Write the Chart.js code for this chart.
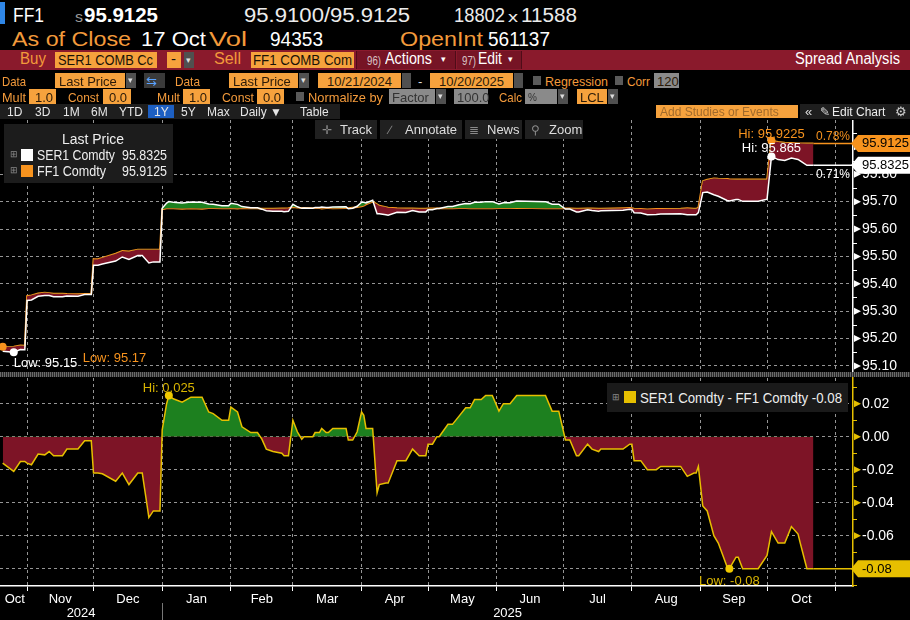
<!DOCTYPE html>
<html>
<head>
<meta charset="utf-8">
<title>FF1 vs SER1 spread</title>
<script src="https://cdn.jsdelivr.net/npm/chart.js@4.4.1/dist/chart.umd.min.js"></script>
<style>
  html, body { margin: 0; padding: 0; background: #000; }
  body { position: relative; width: 910px; height: 620px; overflow: hidden; font-family: "Liberation Sans", Arial, sans-serif; }
  .t { position: absolute; white-space: nowrap; line-height: 1; transform-origin: 0 0; z-index: 6; }
  .b { position: absolute; z-index: 5; }
  #top { position: absolute; left: 0; top: 120px; }
  #bot { position: absolute; left: 0; top: 376px; }
  #sep { position: absolute; left: 0; top: 372px; width: 910px; height: 5px; z-index: 3;
         background: repeating-linear-gradient(90deg, #6a6a6a 0 1px, #2a2a2a 1px 2px); }
</style>
</head>
<body>
<canvas id="top" width="910" height="254"></canvas>
<canvas id="bot" width="910" height="244"></canvas>
<div id="sep"></div>
<script>
// x = calendar days after 21 Oct 2024
const DAYS = [
  0, 5, 8, 10, 11, 13, 16, 19, 21, 23,
  27, 29, 34, 37, 40, 41, 43, 45, 51, 54,
  57, 61, 63, 66, 68, 71, 72, 74, 75, 77,
  81, 85, 90, 93, 95, 99, 102, 103, 106, 108,
  112, 115, 117, 119, 122, 126, 127, 129, 131, 133,
  135, 136, 140, 141, 143, 144, 146, 147, 149, 155,
  156, 158, 160, 162, 163, 164, 167, 169, 170, 173,
  174, 178, 182, 185, 188, 191, 192, 194, 196, 197,
  201, 203, 206, 209, 211, 213, 216, 218, 221, 224,
  226, 229, 232, 245, 248, 251, 254, 256, 259, 260,
  264, 266, 269, 270, 280, 283, 284, 285, 288, 291,
  295, 297, 306, 309, 312, 313, 314, 316, 318, 321,
  323, 327, 328, 331, 332, 334, 341, 345, 347, 350,
  353, 356, 359, 360, 363, 366
];
const FF1 = [
  95.170, 95.171, 95.175, 95.174, 95.355, 95.358, 95.365, 95.368, 95.366, 95.364,
  95.364, 95.363, 95.362, 95.363, 95.363, 95.490, 95.490, 95.495, 95.510, 95.520,
  95.518, 95.525, 95.525, 95.525, 95.525, 95.525, 95.672, 95.675, 95.675, 95.675,
  95.674, 95.675, 95.674, 95.676, 95.676, 95.675, 95.675, 95.676, 95.675, 95.676,
  95.675, 95.675, 95.674, 95.674, 95.674, 95.675, 95.675, 95.676, 95.680, 95.678,
  95.677, 95.677, 95.676, 95.676, 95.676, 95.675, 95.676, 95.676, 95.675, 95.676,
  95.676, 95.678, 95.680, 95.683, 95.685, 95.690, 95.700, 95.690, 95.685, 95.680,
  95.678, 95.676, 95.675, 95.675, 95.674, 95.674, 95.675, 95.675, 95.675, 95.675,
  95.675, 95.675, 95.676, 95.676, 95.675, 95.675, 95.675, 95.675, 95.675, 95.676,
  95.676, 95.676, 95.677, 95.675, 95.675, 95.675, 95.675, 95.675, 95.674, 95.674,
  95.675, 95.675, 95.674, 95.674, 95.676, 95.677, 95.676, 95.674, 95.673, 95.672,
  95.673, 95.673, 95.674, 95.676, 95.674, 95.674, 95.678, 95.775, 95.780, 95.785,
  95.784, 95.783, 95.782, 95.781, 95.781, 95.781, 95.781, 95.781, 95.9225, 95.918,
  95.915, 95.914, 95.913, 95.913, 95.9125, 95.9125
];
const SER1 = [
  95.154, 95.150, 95.160, 95.159, 95.339, 95.341, 95.3545, 95.357, 95.357, 95.3525,
  95.3525, 95.3555, 95.3545, 95.3605, 95.3605, 95.468, 95.468, 95.4725, 95.483, 95.498,
  95.489, 95.503, 95.503, 95.476, 95.480, 95.480, 95.676, 95.695, 95.700, 95.698,
  95.695, 95.699, 95.698, 95.691, 95.690, 95.685, 95.685, 95.694, 95.690, 95.682,
  95.6775, 95.6775, 95.6725, 95.6665, 95.665, 95.665, 95.6635, 95.6645, 95.690, 95.681,
  95.6755, 95.677, 95.676, 95.6785, 95.6785, 95.680, 95.6785, 95.6785, 95.680, 95.681,
  95.674, 95.676, 95.683, 95.698, 95.698, 95.695, 95.705, 95.656, 95.656, 95.652,
  95.650, 95.6615, 95.6605, 95.6675, 95.6625, 95.6625, 95.6705, 95.6705, 95.675, 95.675,
  95.6825, 95.6825, 95.6885, 95.6935, 95.6925, 95.6975, 95.6975, 95.700, 95.700, 95.6915,
  95.696, 95.696, 95.702, 95.700, 95.6905, 95.6905, 95.673, 95.673, 95.6625, 95.6625,
  95.6705, 95.6675, 95.665, 95.6665, 95.6685, 95.6725, 95.6715, 95.6595, 95.6585, 95.652,
  95.653, 95.655, 95.656, 95.652, 95.652, 95.652, 95.660, 95.733, 95.735, 95.725,
  95.7195, 95.704, 95.702, 95.708, 95.708, 95.701, 95.701, 95.709, 95.865, 95.8535,
  95.8505, 95.8595, 95.854, 95.8485, 95.8325, 95.8325
];
const SPREAD = [
  -0.016, -0.021, -0.015, -0.015, -0.016, -0.017, -0.0105, -0.011, -0.009, -0.0115,
  -0.0115, -0.0075, -0.0075, -0.0025, -0.0025, -0.022, -0.022, -0.0225, -0.027, -0.022,
  -0.029, -0.022, -0.022, -0.049, -0.045, -0.045, 0.004, 0.020, 0.025, 0.023,
  0.021, 0.024, 0.024, 0.015, 0.014, 0.010, 0.010, 0.018, 0.015, 0.006,
  0.0025, 0.0025, -0.0015, -0.0075, -0.009, -0.010, -0.0115, -0.0115, 0.010, 0.003,
  -0.0015, 0.000, 0.000, 0.0025, 0.0025, 0.005, 0.0025, 0.0025, 0.005, 0.005,
  -0.002, -0.002, 0.003, 0.015, 0.013, 0.005, 0.005, -0.034, -0.029, -0.028,
  -0.028, -0.0145, -0.0145, -0.0075, -0.0115, -0.0115, -0.0045, -0.0045, 0.000, 0.000,
  0.0075, 0.0075, 0.0125, 0.0175, 0.0175, 0.0225, 0.0225, 0.025, 0.025, 0.0155,
  0.020, 0.020, 0.025, 0.025, 0.0155, 0.0155, -0.002, -0.002, -0.0115, -0.0115,
  -0.0045, -0.0075, -0.009, -0.0075, -0.0075, -0.0045, -0.0045, -0.0145, -0.0145, -0.020,
  -0.020, -0.018, -0.018, -0.024, -0.022, -0.022, -0.018, -0.042, -0.045, -0.060,
  -0.0645, -0.079, -0.080, -0.073, -0.073, -0.080, -0.080, -0.072, -0.0575, -0.0645,
  -0.0645, -0.0545, -0.059, -0.0645, -0.080, -0.080
];

const MONTH_START = [11, 41, 72, 103, 131, 162, 192, 223, 253, 284, 315, 345, 376];
const MONTH_LABELS = ['Oct', 'Nov', 'Dec', 'Jan', 'Feb', 'Mar', 'Apr', 'May', 'Jun', 'Jul', 'Aug', 'Sep', 'Oct'];
const YEAR_LABELS = ['2024', '2025'];
const YEAR_START = 72;
const PRICE_TICKS = [95.1, 95.2, 95.3, 95.4, 95.5, 95.6, 95.7, 95.8, 95.9];
const SPREAD_TICKS = [0.02, 0, -0.02, -0.04, -0.06, -0.08];

const X_MIN = -1.2, X_MAX = 383.8;
const WHITE = '#ffffff', ORANGE = '#f7931e', YELLOW = '#e6bf00';
const GREEN = '#1d801f', RED = '#7d1426';
const GRID = 'rgba(165,165,165,0.9)';
const TXT_OR = '#f39a3b', BOX_OR = '#f6a23d', DARK = '#2a1a08';
const FONT = '"Liberation Sans", Arial, sans-serif';

Chart.defaults.font.family = FONT;
Chart.defaults.color = WHITE;

const monthMid = MONTH_LABELS.map((m, i) => ((i ? MONTH_START[i - 1] : 0) + MONTH_START[i]) / 2);
const pts = arr => DAYS.map((d, i) => ({ x: d, y: arr[i] }));
const fmt = v => String(+v.toFixed(4));
const pct = arr => ((arr[arr.length - 1] - arr[0]) / arr[0] * 100).toFixed(2) + '%';
const last = arr => arr[arr.length - 1];
const argMax = arr => arr.indexOf(Math.max(...arr));
const argMin = arr => arr.indexOf(Math.min(...arr));
const zeroPad = s => { s.paddingTop = 0; s.paddingBottom = 0; s.paddingLeft = 0; s.paddingRight = 0; };

// ---------- page furniture ----------
function box(x, y, w, h, bg, extra) {
  const d = document.createElement('div');
  d.className = 'b';
  d.style.cssText = `left:${x}px;top:${y}px;width:${w}px;height:${h}px;background:${bg};${extra || ''}`;
  document.body.appendChild(d);
  return d;
}
function txt(x, base, w, size, color, s, extra) {
  const d = document.createElement('div');
  d.className = 't';
  d.textContent = s;
  d.style.cssText = `left:${x}px;top:${base - size * 0.85}px;font-size:${size}px;color:${color};${extra || ''}`;
  document.body.appendChild(d);
  if (w) {
    const r = d.getBoundingClientRect().width;
    if (r > 0) d.style.transform = `scaleX(${w / r})`;
  }
  return d;
}
function drop(x, y, h) {
  box(x, y, 10, h, '#505050');
  txt(x + 2, y + h - 4, 0, 9, '#ddd', '\u25BE');
}

// row 1
box(0, 2, 5, 22, '#2f86e6');
txt(13, 22, 31, 20, WHITE, 'FF1');
txt(75, 22, 8, 14, '#9a9a9a', 's');
txt(84, 22, 74, 21, WHITE, '95.9125', 'font-weight:bold');
txt(244, 22, 166, 20, '#ececec', '95.9100/95.9125');
txt(454, 22, 51, 20, '#ececec', '18802');
txt(508, 22, 10, 14, '#ececec', 'x');
txt(521, 22, 56, 20, '#ececec', '11588');
// row 2
txt(12, 46, 119, 20, TXT_OR, 'As of Close');
txt(141, 46, 65, 20, WHITE, '17 Oct');
txt(209, 46, 38, 20, TXT_OR, 'Vol');
txt(270, 46, 53, 20, WHITE, '94353');
txt(400, 46, 83, 20, TXT_OR, 'OpenInt');
txt(488, 46, 62, 20, WHITE, '561137');
// row 3 (red bar)
box(0, 50, 910, 20, '#8a1a2c');
txt(20, 65, 26, 16, TXT_OR, 'Buy');
box(55, 52, 102, 16, BOX_OR);
txt(58, 65, 95, 15, '#1a1208', 'SER1 COMB Cc');
box(167, 52, 14, 16, BOX_OR);
txt(171, 64, 0, 15, '#111', '-');
drop(184, 52, 16);
txt(214, 65, 27, 16, TXT_OR, 'Sell');
box(251, 52, 103, 16, BOX_OR);
txt(253, 65, 99, 15, '#1a1208', 'FF1 COMB Com');
box(356, 51, 98, 18, '#761425', 'border-left:1px solid #4e0c18;border-right:1px solid #4e0c18');
txt(367, 65, 14, 12, '#d9c3c6', '96)');
txt(385, 65, 47, 16, WHITE, 'Actions');
txt(441, 63, 0, 9, WHITE, '\u25BE');
box(457, 51, 64, 18, '#761425', 'border-right:1px solid #4e0c18');
txt(462, 65, 14, 12, '#d9c3c6', '97)');
txt(478, 65, 24, 16, WHITE, 'Edit');
txt(508, 63, 0, 9, WHITE, '\u25BE');
txt(795, 65, 105, 16, WHITE, 'Spread Analysis');
// row 4
txt(2, 86, 24, 13, TXT_OR, 'Data');
box(55, 73, 70, 15, BOX_OR); txt(59, 86, 0, 13, DARK, 'Last Price'); drop(126, 73, 15);
box(144, 73, 21, 15, '#3a3a3a'); txt(146, 86, 0, 13, '#5aa2ff', '\u21C6');
txt(175, 86, 25, 13, TXT_OR, 'Data');
box(229, 73, 69, 15, BOX_OR); txt(233, 86, 0, 13, DARK, 'Last Price'); drop(299, 73, 15);
box(318, 73, 83, 15, BOX_OR); txt(327, 86, 0, 13, DARK, '10/21/2024'); box(402, 73, 9, 15, '#505050');
txt(418, 86, 0, 13, '#ddd', '-');
box(430, 73, 83, 15, BOX_OR); txt(439, 86, 0, 13, DARK, '10/20/2025'); box(514, 73, 9, 15, '#505050');
box(533, 76, 8, 9, '#5a5a5a');
txt(545, 86, 63, 13, TXT_OR, 'Regression');
box(615, 76, 8, 9, '#5a5a5a');
txt(627, 86, 23, 13, TXT_OR, 'Corr');
box(654, 73, 25, 15, '#8a8a8a'); txt(657, 86, 0, 13, DARK, '120');
// row 5
txt(2, 102, 24, 13, TXT_OR, 'Mult');
box(29, 89, 27, 15, BOX_OR); txt(35, 102, 0, 13, DARK, '1.0');
txt(68, 102, 31, 13, TXT_OR, 'Const');
box(103, 89, 28, 15, BOX_OR); txt(109, 102, 0, 13, DARK, '0.0');
txt(157, 102, 23, 13, TXT_OR, 'Mult');
box(183, 89, 27, 15, BOX_OR); txt(189, 102, 0, 13, DARK, '1.0');
txt(222, 102, 32, 13, TXT_OR, 'Const');
box(257, 89, 27, 15, BOX_OR); txt(263, 102, 0, 13, DARK, '0.0');
box(296, 92, 8, 9, '#5a5a5a');
txt(308, 102, 75, 13, TXT_OR, 'Normalize by');
box(389, 89, 46, 15, '#8a8a8a'); txt(392, 102, 0, 13, '#333', 'Factor'); drop(436, 89, 15);
box(454, 89, 34, 15, '#8a8a8a'); txt(457, 102, 0, 13, '#333', '100.0');
txt(499, 102, 23, 13, TXT_OR, 'Calc');
box(525, 89, 32, 15, '#8a8a8a'); txt(528, 101, 0, 10, '#333', '%'); drop(558, 89, 15);
box(577, 89, 30, 15, BOX_OR); txt(580, 102, 0, 13, DARK, 'LCL'); drop(608, 89, 15);
// row 6
box(0, 104, 340, 15, '#1e1e1e');
[['1D', 7], ['3D', 35], ['1M', 63], ['6M', 91], ['YTD', 119], ['1Y', 154], ['5Y', 181], ['Max', 207], ['Daily \u25BC', 240], ['Table', 300]]
  .forEach(([s, x]) => {
    if (s === '1Y') box(148, 105, 26, 13, '#1d5fc2');
    txt(x, 116, 0, 12, '#e6e6e6', s);
  });
box(656, 105, 142, 13, BOX_OR);
txt(660, 116, 0, 12, 'rgba(90,60,30,0.55)', 'Add Studies or Events');
box(800, 104, 110, 15, '#1e1e1e');
txt(805, 116, 0, 13, '#ddd', '\u00AB');
txt(820, 116, 0, 12, '#ddd', '\u270E');
txt(832, 116, 0, 12, '#eee', 'Edit Chart');
txt(895, 116, 0, 13, '#ccc', '\u2699');

// chart toolbar
[[315, 62, '\u271B', 322, 'Track', 340], [380, 82, '\u2215', 389, 'Annotate', 405],
 [465, 57, '\u2263', 469, 'News', 487], [525, 58, '\u26B2', 531, 'Zoom', 549]]
  .forEach(([bx, bw, ic, ix, s, tx]) => {
    box(bx, 120, bw, 19, '#202020');
    txt(ix, 134, 0, 12, '#8a8a8a', ic);
    txt(tx, 134, 0, 13, '#dedede', s);
  });

// price legend
box(4, 124, 169, 59, '#1c1c1c');
txt(62, 144, 62, 14, '#eee', 'Last Price');
txt(10, 158, 0, 9, '#888', '\u229E');
box(21, 149, 12, 12, WHITE, 'z-index:6');
txt(37, 160, 78, 14, '#eee', 'SER1 Comdty');
txt(122, 160, 45, 14, '#eee', fmt(last(SER1)));
txt(10, 174, 0, 9, '#888', '\u229E');
box(21, 165, 12, 12, ORANGE, 'z-index:6');
txt(37, 176, 69, 14, '#eee', 'FF1 Comdty');
txt(122, 176, 45, 14, '#eee', fmt(last(FF1)));

// spread legend
box(607, 383, 241, 29, '#1a1a1a');
txt(612, 401, 0, 9, '#888', '\u229E');
box(624, 391, 12, 12, YELLOW, 'z-index:6');
txt(640, 403, 202, 14, '#eee', 'SER1 Comdty - FF1 Comdty ' + fmt(last(SPREAD)));

// ---------- drawing helpers ----------
function hline(ctx, x1, x2, y, color, w) {
  ctx.save(); ctx.strokeStyle = color; ctx.lineWidth = w;
  ctx.beginPath(); ctx.moveTo(x1, y); ctx.lineTo(x2, y); ctx.stroke(); ctx.restore();
}
function dot(ctx, x, y, color) {
  ctx.save(); ctx.fillStyle = color; ctx.beginPath(); ctx.arc(x, y, 4, 0, Math.PI * 2); ctx.fill(); ctx.restore();
}
function label(ctx, s, x, y, color, align, size) {
  ctx.save(); ctx.fillStyle = color; ctx.font = `${size || 13}px ${FONT}`;
  ctx.textAlign = align; ctx.textBaseline = 'alphabetic'; ctx.fillText(s, x, y); ctx.restore();
}
function axisDeco(chart, ticks, minor, color) {
  const { ctx, chartArea: a, scales: { y } } = chart;
  ctx.save(); ctx.fillStyle = color; ctx.strokeStyle = color; ctx.lineWidth = 1;
  ticks.forEach(v => {
    const p = y.getPixelForValue(v);
    ctx.beginPath(); ctx.moveTo(a.right + 1, p - 3.5); ctx.lineTo(a.right + 8, p); ctx.lineTo(a.right + 1, p + 3.5);
    ctx.closePath(); ctx.fill();
  });
  minor.forEach(v => {
    const p = Math.round(y.getPixelForValue(v)) + 0.5;
    ctx.beginPath(); ctx.moveTo(a.right, p); ctx.lineTo(a.right + 4, p); ctx.stroke();
  });
  ctx.restore();
}
function tag(ctx, x0, py, s, bg) {
  ctx.save();
  ctx.fillStyle = bg;
  ctx.beginPath();
  ctx.moveTo(x0 - 2, py); ctx.lineTo(x0 + 5, py - 8.5); ctx.lineTo(910, py - 8.5);
  ctx.lineTo(910, py + 8.5); ctx.lineTo(x0 + 5, py + 8.5); ctx.closePath(); ctx.fill();
  ctx.fillStyle = '#000'; ctx.font = `13px ${FONT}`; ctx.textAlign = 'left'; ctx.textBaseline = 'middle';
  ctx.fillText(s, x0 + 9, py + 0.5);
  ctx.restore();
}

// ---------- upper panel ----------
const upperMarks = {
  id: 'upperMarks',
  afterDatasetsDraw(chart) {
    const { ctx, chartArea: a, scales: { x, y } } = chart;
    const xe = x.getPixelForValue(last(DAYS));
    hline(ctx, xe, a.right, y.getPixelForValue(last(FF1)), ORANGE, 1.5);
    hline(ctx, xe, a.right, y.getPixelForValue(last(SER1)), WHITE, 1.5);
  },
  afterDraw(chart) {
    const { ctx, chartArea: a, scales: { x, y } } = chart;
    const minor = PRICE_TICKS.map(v => v + 0.05).filter(v => v < y.max);
    axisDeco(chart, PRICE_TICKS, minor, WHITE);

    let i = argMax(FF1), px = x.getPixelForValue(DAYS[i]), py = y.getPixelForValue(FF1[i]);
    dot(ctx, px, py, ORANGE); label(ctx, 'Hi: ' + fmt(FF1[i]), px, py - 3, ORANGE, 'center');
    i = argMax(SER1); px = x.getPixelForValue(DAYS[i]); py = y.getPixelForValue(SER1[i]);
    dot(ctx, px, py, WHITE); label(ctx, 'Hi: ' + fmt(SER1[i]), px, py - 4, WHITE, 'center');
    i = argMin(FF1); px = x.getPixelForValue(DAYS[i]); py = y.getPixelForValue(FF1[i]);
    dot(ctx, px, py, ORANGE); label(ctx, 'Low: ' + fmt(FF1[i]), px + 80, py + 15, ORANGE, 'left');
    i = argMin(SER1); px = x.getPixelForValue(DAYS[i]); py = y.getPixelForValue(SER1[i]);
    dot(ctx, px, py, WHITE); label(ctx, 'Low: ' + fmt(SER1[i]), px, py + 15, WHITE, 'left');

    const yf = y.getPixelForValue(last(FF1)), ys = y.getPixelForValue(last(SER1));
    label(ctx, pct(FF1), a.right - 3, yf - 3, ORANGE, 'right', 12);
    label(ctx, pct(SER1), a.right - 3, ys + 13, WHITE, 'right', 12);
    tag(ctx, a.right, ys, fmt(last(SER1)), WHITE);
    tag(ctx, a.right, yf, fmt(last(FF1)), ORANGE);
  }
};

new Chart(document.getElementById('top'), {
  type: 'line',
  data: {
    datasets: [
      { label: 'SER1 Comdty', data: pts(SER1), borderColor: WHITE, borderWidth: 1.5, pointRadius: 0, tension: 0,
        fill: { target: 1, above: GREEN, below: RED } },
      { label: 'FF1 Comdty', data: pts(FF1), borderColor: ORANGE, borderWidth: 1.8, pointRadius: 0, tension: 0, fill: false }
    ]
  },
  options: {
    responsive: false, animation: false, events: [],
    layout: { padding: { top: 0, bottom: 2, left: 0, right: 0 } },
    plugins: { legend: { display: false }, tooltip: { enabled: false } },
    scales: {
      x: {
        type: 'linear', min: X_MIN, max: X_MAX,
        afterBuildTicks: s => { s.ticks = MONTH_START.map(v => ({ value: v })); },
        ticks: { display: false },
        grid: { color: GRID, drawTicks: false },
        border: { display: false, dash: [3, 3] },
        afterFit: s => { s.height = 0; zeroPad(s); }
      },
      y: {
        position: 'right', min: 95.078, max: 95.998,
        afterBuildTicks: s => { s.ticks = PRICE_TICKS.map(v => ({ value: v })); },
        ticks: { color: WHITE, font: { size: 14 }, padding: 9, autoSkip: false, callback: v => v.toFixed(2) },
        grid: { color: c => (c.tick && c.tick.value > 95.85) ? 'rgba(0,0,0,0)' : GRID, drawTicks: false },
        border: { color: WHITE, width: 1.5, dash: [3, 3] },
        afterFit: s => { s.width = 57; zeroPad(s); }
      }
    }
  },
  plugins: [upperMarks]
});

// ---------- lower panel ----------
const isStart = c => c.tick && MONTH_START.includes(c.tick.value);
const lowerMarks = {
  id: 'lowerMarks',
  afterDatasetsDraw(chart) {
    const { ctx, chartArea: a, scales: { x, y } } = chart;
    hline(ctx, x.getPixelForValue(last(DAYS)), a.right, y.getPixelForValue(last(SPREAD)), YELLOW, 1.5);
  },
  afterDraw(chart) {
    const { ctx, chartArea: a, scales: { x, y } } = chart;
    const minor = SPREAD_TICKS.map(v => v + 0.01).concat([SPREAD_TICKS[SPREAD_TICKS.length - 1] - 0.01]);
    axisDeco(chart, SPREAD_TICKS, minor, YELLOW);

    let i = argMax(SPREAD), px = x.getPixelForValue(DAYS[i]), py = y.getPixelForValue(SPREAD[i]);
    dot(ctx, px, py, '#f0c800'); label(ctx, 'Hi: ' + fmt(SPREAD[i]), px, py - 3, '#d8b400', 'center');
    i = argMin(SPREAD); px = x.getPixelForValue(DAYS[i]); py = y.getPixelForValue(SPREAD[i]);
    dot(ctx, px, py, '#f0c800'); label(ctx, 'Low: ' + fmt(SPREAD[i]), px, py + 16, '#d8b400', 'center');

    tag(ctx, a.right, y.getPixelForValue(last(SPREAD)), fmt(last(SPREAD)), YELLOW);

    // year row
    const xs = x.getPixelForValue(YEAR_START);
    const x0 = x.getPixelForValue(X_MIN), x1 = a.right;
    ctx.save(); ctx.strokeStyle = '#777'; ctx.lineWidth = 1;
    ctx.beginPath(); ctx.moveTo(Math.round(xs) + 0.5, a.bottom + 17); ctx.lineTo(Math.round(xs) + 0.5, 244); ctx.stroke();
    ctx.restore();
    label(ctx, YEAR_LABELS[0], (x0 + xs) / 2, a.bottom + 31, WHITE, 'center');
    label(ctx, YEAR_LABELS[1], (xs + x1) / 2, a.bottom + 31, WHITE, 'center');
  }
};

new Chart(document.getElementById('bot'), {
  type: 'line',
  data: {
    datasets: [
      { label: 'SER1 Comdty - FF1 Comdty', data: pts(SPREAD), borderColor: YELLOW, borderWidth: 1.5, pointRadius: 0, tension: 0,
        fill: { target: { value: 0 }, above: GREEN, below: RED } }
    ]
  },
  options: {
    responsive: false, animation: false, events: [],
    layout: { padding: { top: 2, bottom: 0, left: 0, right: 0 } },
    plugins: { legend: { display: false }, tooltip: { enabled: false } },
    scales: {
      x: {
        type: 'linear', min: X_MIN, max: X_MAX,
        afterBuildTicks: s => { s.ticks = MONTH_START.concat(monthMid).sort((p, q) => p - q).map(v => ({ value: v })); },
        ticks: {
          color: WHITE, font: { size: 13 }, autoSkip: false, maxRotation: 0, padding: 1,
          callback: v => { const k = monthMid.indexOf(v); return k < 0 ? '' : MONTH_LABELS[k]; }
        },
        grid: {
          color: c => isStart(c) ? GRID : 'rgba(0,0,0,0)',
          tickColor: c => isStart(c) ? WHITE : 'rgba(0,0,0,0)',
          tickLength: 5, drawTicks: true
        },
        border: { display: true, color: WHITE, width: 1.5, dash: [3, 3] },
        afterFit: s => { s.height = 34; zeroPad(s); }
      },
      y: {
        position: 'right', min: -0.0905, max: 0.0356,
        afterBuildTicks: s => { s.ticks = SPREAD_TICKS.map(v => ({ value: v })); },
        ticks: { color: WHITE, font: { size: 14 }, padding: 9, autoSkip: false, callback: v => v.toFixed(2) },
        grid: { color: GRID, drawTicks: false },
        border: { color: YELLOW, width: 1.5, dash: [3, 3] },
        afterFit: s => { s.width = 57; zeroPad(s); }
      }
    }
  },
  plugins: [lowerMarks]
});
</script>
</body>
</html>
